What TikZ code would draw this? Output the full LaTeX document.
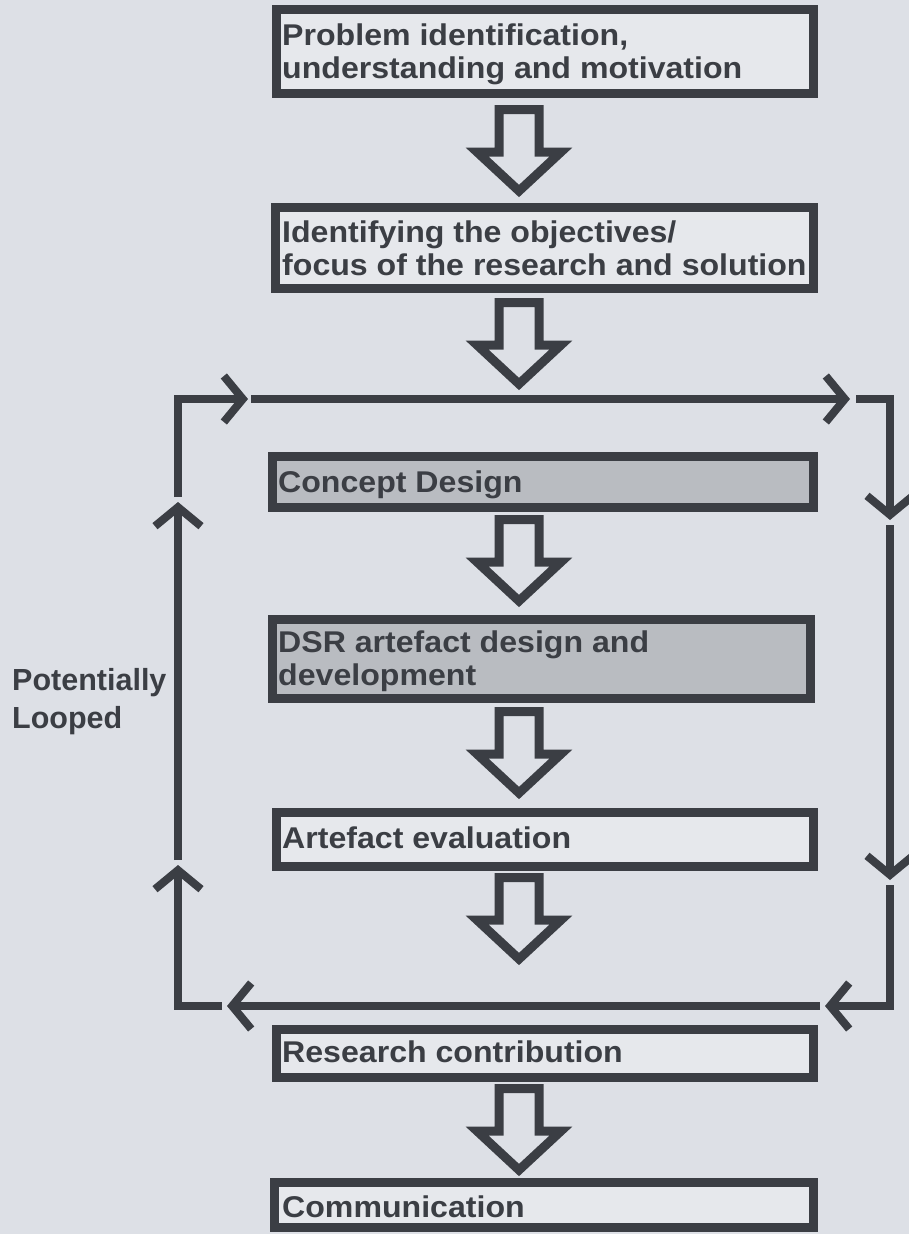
\documentclass[tikz,border=0pt]{standalone}
\usepackage{fontspec}
\setmainfont{Liberation Sans}
\newfontfamily\boxfont{Liberation Sans Bold}[FakeStretch=1.07]
\newfontfamily\sidefont{Liberation Sans Bold}
\usetikzlibrary{arrows.meta}
\definecolor{paper}{HTML}{DDE0E6}
\definecolor{ink}{HTML}{3B3E44}
\definecolor{boxfill}{HTML}{E6E8EC}
\definecolor{greyfill}{HTML}{B9BCC1}
\tikzset{
  stage/.style={rectangle, draw=ink, line width=9pt, fill=boxfill,
    inner sep=0pt, anchor=north west},
  greystage/.style={stage, fill=greyfill},
  label text/.style={anchor=base west, inner sep=0pt, align=left, text=ink,
    font=\boxfont\fontsize{30}{33}\selectfont},
  loopline/.style={draw=ink, line width=8pt,
    -{Straight Barb[length=19pt, width=46pt, line width=8pt]}},
  pics/downarrow/.style={code={
    \draw[ink, line width=9pt, line join=miter]
      (-20,4.5) -- (20,4.5) -- (20,47) -- (42,47) -- (0,86)
      -- (-42,47) -- (-20,47) -- cycle;
  }}
}
\begin{document}
\begin{tikzpicture}[x=1pt, y=-1pt]
  % page
  \fill[paper] (0,0) rectangle (909,1234);
  \useasboundingbox (0,0) rectangle (909,1234);

  % stages (anchored at their outer top-left corner)
  \node[stage, minimum width=537pt, minimum height=84pt] (s1) at (272,5) {};
  \node[stage, minimum width=538pt, minimum height=81pt] (s2) at (271,203) {};
  \node[greystage, minimum width=541pt, minimum height=51pt] (s3) at (268,452) {};
  \node[greystage, minimum width=538pt, minimum height=79pt] (s4) at (268,615) {};
  \node[stage, minimum width=537pt, minimum height=54pt] (s5) at (272,808) {};
  \node[stage, minimum width=537pt, minimum height=48pt] (s6) at (272,1025) {};
  \node[stage, minimum width=539pt, minimum height=45pt] (s7) at (270,1178) {};

  % stage texts (placed at the baseline of their last line)
  \node[label text] (t1) at (282,78) {Problem identification,\\understanding and motivation};
  \node[label text] (t2) at (282,275) {Identifying the objectives/\\focus of the research and solution};
  \node[label text] (t3) at (278,492) {Concept Design};
  \node[label text] (t4) at (278,685) {DSR artefact design and\\development};
  \node[label text] (t5) at (282,848) {Artefact evaluation};
  \node[label text] (t6) at (282,1062) {Research contribution};
  \node[label text] (t7) at (282,1217) {Communication};

  % hollow block arrows between stages
  \pic at (519,105) {downarrow};
  \pic at (519,298) {downarrow};
  \pic at (519,515) {downarrow};
  \pic at (519,707) {downarrow};
  \pic at (519,873) {downarrow};
  \pic at (519,1084) {downarrow};

  % loop around the design cycle
  \coordinate (tl) at (178,399);
  \coordinate (tr) at (890,399);
  \coordinate (bl) at (178,1006);
  \coordinate (br) at (890,1006);
  \coordinate (h0) at (178,497);
  \coordinate (h1) at (248,399);
  \coordinate (a0) at (251,399);
  \coordinate (a1) at (850,399);
  \coordinate (b0) at (856,399);
  \coordinate (b1) at (890,520);
  \coordinate (c0) at (890,525);
  \coordinate (c1) at (890,880);
  \coordinate (d0) at (890,885);
  \coordinate (d1) at (825,1006);
  \coordinate (e0) at (820,1006);
  \coordinate (e1) at (227,1006);
  \coordinate (f0) at (222,1006);
  \coordinate (f1) at (178,865);
  \coordinate (g0) at (178,860);
  \coordinate (g1) at (178,502);

  \draw[loopline] (h0) -- (tl) -- (h1);
  \draw[loopline] (a0) -- (a1);
  \draw[loopline] (b0) -- (tr) -- (b1);
  \draw[loopline] (c0) -- (c1);
  \draw[loopline] (d0) -- (br) -- (d1);
  \draw[loopline] (e0) -- (e1);
  \draw[loopline] (f0) -- (bl) -- (f1);
  \draw[loopline] (g0) -- (g1);

  % side note
  \node[anchor=base west, inner sep=0pt, align=left, text=ink,
    font=\sidefont\fontsize{30.5}{38}\selectfont] (note) at (12,728)
    {Potentially\\Looped};
\end{tikzpicture}
\end{document}
